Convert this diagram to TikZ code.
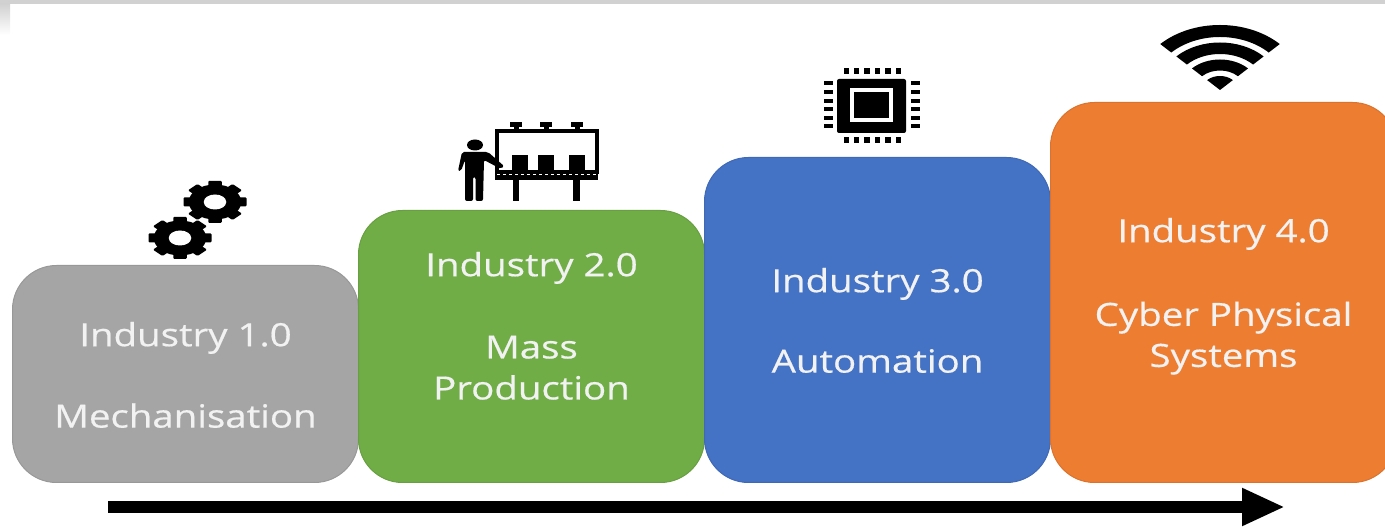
\documentclass[tikz,border=0pt]{standalone}
\usepackage{fontspec}
\setmainfont{Open Sans}[FakeStretch=1.2, FakeBold=0.5]
\usetikzlibrary{positioning, arrows.meta}

\definecolor{stepgray}{HTML}{A5A5A5}
\definecolor{stepgreen}{HTML}{70AD47}
\definecolor{stepblue}{HTML}{4472C4}
\definecolor{steporange}{HTML}{ED7D31}

\tikzset{
	stepbox/.style={draw=#1!92!black, fill=#1, line width=1pt, rectangle, rounded corners=44pt, minimum width=346pt, anchor=south west, inner sep=0pt},
	steptext/.style={text=white!95!black, font=\fontsize{32}{41}\selectfont, align=center, inner sep=0pt, text height=24pt, text depth=7pt},
	timeline/.style={line width=12pt, -{Triangle[length=43pt, width=35pt]}},
	gearicon/.pic={
		\begin{scope}[xscale=1.5]
			\foreach \a in {0,45,...,315}
				\fill [rotate=\a, rounded corners=1pt] (-4.5,0) rectangle (4.5,21);
			\fill (0,0) circle (17.5);
			\fill [white] (0,0) circle (7.5);
		\end{scope}
	}
}

\begin{document}
\begin{tikzpicture}[x=1pt, y=1pt]
	\path [use as bounding box, clip] (0,0) rectangle (1385,527);
	\fill [black!18] (0,523) rectangle (1385,527);
	\shade [top color=black!18, bottom color=white] (0,492) rectangle (10,523);

	% the four steps
	\coordinate (base) at (12,44);
	\node [stepbox=stepgray, minimum height=217pt] (gray) at (base) {};
	\node [stepbox=stepgreen, minimum height=272pt, xshift=-1pt] (green) at (gray.south east) {};
	\node [stepbox=stepblue, minimum height=325pt, xshift=-1pt] (blue) at (green.south east) {};
	\node [stepbox=steporange, minimum height=380pt, xshift=-1pt] (orange) at (blue.south east) {};

	\node [steptext, below= 57pt of gray.north] (grayone) {Industry 1.0};
	\node [steptext, below= 50pt of grayone] (graytwo) {Mechanisation};
	\node [steptext, below= 42pt of green.north] (greenone) {Industry 2.0};
	\node [steptext, below= 52pt of greenone, text height=, text depth=] (greentwo) {Mass\\Production};
	\node [steptext, below= 111pt of blue.north] (blueone) {Industry 3.0};
	\node [steptext, below= 49pt of blueone] (bluetwo) {Automation};
	\node [steptext, below= 116pt of orange.north] (orangeone) {Industry 4.0};
	\node [steptext, below= 52pt of orangeone, text height=, text depth=] (orangetwo) {Cyber Physical\\Systems};

	% gears
	\pic at (215,325) {gearicon};
	\pic at (180,289) {gearicon};

	% man at the belt
	\fill (475,382) ellipse (8 and 5.5);
	\fill [rounded corners=2pt] (458,356) -- (462,375) -- (488,375) -- (504,361) -- (501,358) -- (484,367) -- (483,326) -- (475.5,326) -- (475.5,350) -- (473,350) -- (473,326) -- (465,326) -- (465,367) -- (461,356) -- cycle;
	\draw [line width=3.5pt] (497,396) rectangle (597,355);
	\foreach \x in {516,546,577} {
		\fill (\x-2.5,396) rectangle (\x+2.5,403);
		\fill (\x-6,400) rectangle (\x+6,405);
	}
	\foreach \x in {520,546,577}
		\fill (\x-8,356) rectangle (\x+8,372);
	\fill (495,347) rectangle (598,357);
	\draw [white, line width=1pt, dash pattern=on 3pt off 3pt] (497,352) -- (597,352);
	\fill (513,326) rectangle (519,350);
	\fill (573,326) rectangle (580,350);

	% chip
	\fill [rounded corners=2pt] (837,394) rectangle (906,448);
	\draw [white, line width=4pt] (852,407) rectangle (891,437);
	\foreach \i in {0,1,...,5} {
		\fill (843.5+\i*10.4,453) rectangle +(5.5,6);
		\fill (843.5+\i*10.4,384) rectangle +(5.5,6);
		\fill (824,441.5-\i*8.6) rectangle +(9,4);
		\fill (911,441.5-\i*8.6) rectangle +(9,4);
	}

	% wifi
	\begin{scope}[shift={(1220,437)}, xscale=1.3]
		\foreach \ri/\ro in {53/65, 36/47.5, 19.5/30.5}
			\fill (45:\ro) arc (45:135:\ro) -- (135:\ri) arc (135:45:\ri) -- cycle;
		\fill (0,0) -- (45:14) arc (45:135:14) -- cycle;
	\end{scope}

	% time arrow
	\coordinate (timestart) at (108,20);
	\coordinate (timeend) at (1285,20);
	\draw [timeline] (timestart) -- (timeend);
\end{tikzpicture}
\end{document}
